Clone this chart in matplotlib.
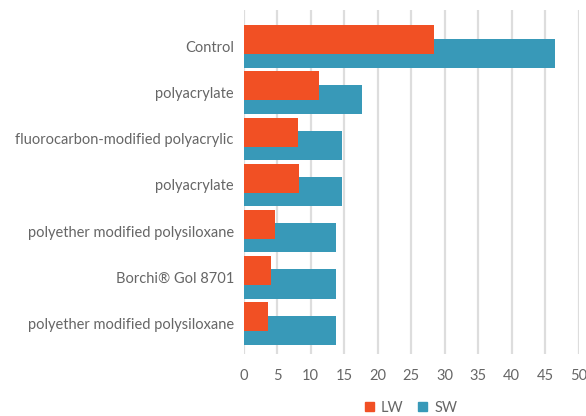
import matplotlib
matplotlib.use("Agg")
import matplotlib.pyplot as plt
import numpy as np
from matplotlib.patches import Patch

categories = ["Control", "polyacrylate", "fluorocarbon-modified polyacrylic", "polyacrylate",
              "polyether modified polysiloxane", "Borchi® Gol 8701", "polyether modified polysiloxane"]
lw = [28.4, 11.3, 8.1, 8.3, 4.7, 4.1, 3.7]
sw = [46.5, 17.7, 14.7, 14.7, 13.8, 13.8, 13.8]
xticks = [0, 5, 10, 15, 20, 25, 30, 35, 40, 45, 50]

plt.rcParams['font.family'] = ['Lato', 'DejaVu Sans']
c_lw = "#F15024"
c_sw = "#3899B8"
txt = "#666666"

fig = plt.figure(figsize=(5.86, 4.16), dpi=100)
ax = fig.add_axes([243.5/586, 1-354/416, 335/586, 344/416])

y = np.arange(len(categories))
h = 0.63
off = 0.15
ax.barh(y + off, sw, height=h, color=c_sw, zorder=2)
ax.barh(y - off, lw, height=h, color=c_lw, zorder=3)

ax.set_xlim(0, 50)
ax.set_ylim(6.67, -0.8)
ax.set_xticks(xticks)
ax.set_xticklabels([str(t) for t in xticks], fontsize=10.5, color=txt)
ax.set_yticks(y)
ax.set_yticklabels(categories, fontsize=10.5, color=txt)
ax.tick_params(axis='both', length=0)
ax.tick_params(axis='y', pad=7)
ax.tick_params(axis='x', pad=11)
ax.xaxis.grid(True, color="#dddddd", linewidth=1.6, zorder=0)
ax.set_axisbelow(True)
for s in ax.spines.values():
    s.set_visible(False)

handles = [Patch(color=c_lw, label="LW"), Patch(color=c_sw, label="SW")]
fig.legend(handles=handles, loc='center', bbox_to_anchor=(411/586, 1-408/416), ncol=2,
           frameon=False, fontsize=10.5, labelcolor=txt, handlelength=0.6, handleheight=0.6,
           handletextpad=0.5, columnspacing=1.0)

fig.savefig("out.png", dpi=100)
